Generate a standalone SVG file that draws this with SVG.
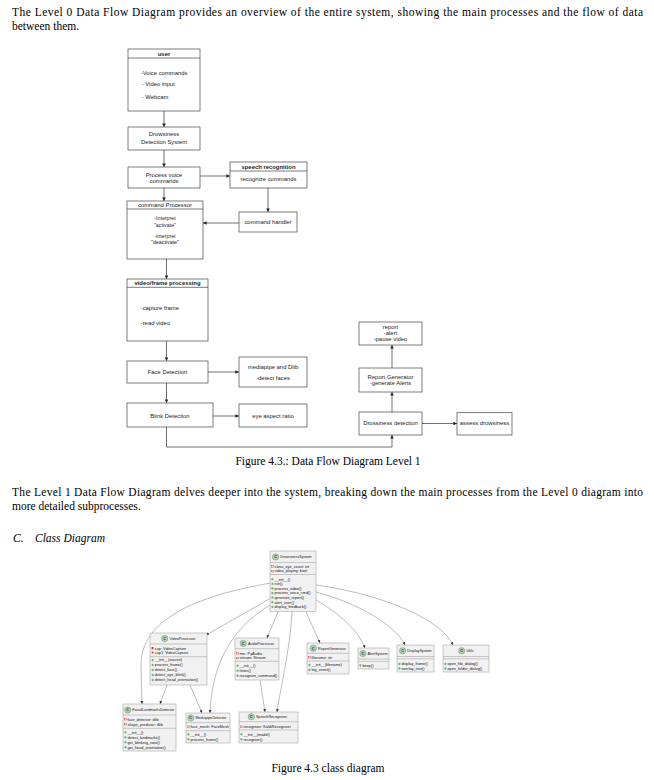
<svg xmlns="http://www.w3.org/2000/svg" width="654" height="780" viewBox="0 0 654 780">
<defs>
<style>
.bt{font-family:"Liberation Serif","Times New Roman",serif;font-size:11.5px;fill:#000}
.bx{fill:#fff;stroke:#444;stroke-width:0.7}
.dl{stroke:#444;stroke-width:0.7}
.t{font-family:"Liberation Sans",Arial,sans-serif;font-size:5.9px;fill:#222}
.tm{text-anchor:middle}
.b{font-weight:bold}
.ar{fill:none;stroke:#333;stroke-width:0.7;marker-end:url(#ah)}
.cb{fill:#f1f1f1;stroke:#999;stroke-width:0.5}
.cd{stroke:#999;stroke-width:0.5}
.ci{fill:#add1b2;stroke:#5b7a60;stroke-width:0.35}
.cc{font-family:"Liberation Sans",Arial,sans-serif;font-size:4px;font-weight:bold;fill:#1e3a22;text-anchor:middle}
.cn{font-family:"Liberation Sans",Arial,sans-serif;font-size:3.7px;fill:#111}
.ct{font-family:"Liberation Sans",Arial,sans-serif;font-size:3.8px;fill:#111}
.pv{fill:none;stroke:#c82930;stroke-width:0.4}
.pb{fill:#84be84;stroke:#038048;stroke-width:0.3}
.cl{fill:none;stroke:#6a6a6a;stroke-width:0.45;marker-end:url(#ah2)}
</style>
<marker id="ah" viewBox="0 0 6 6" refX="6" refY="3" markerWidth="3.6" markerHeight="3.6" markerUnits="userSpaceOnUse" orient="auto"><path d="M0,0L6,3L0,6z" fill="#222"/></marker>
<marker id="ah2" viewBox="0 0 6 6" refX="6" refY="3" markerWidth="3" markerHeight="3" markerUnits="userSpaceOnUse" orient="auto"><path d="M0,0L6,3L0,6z" fill="#333"/></marker>
</defs>
<rect width="654" height="780" fill="#fff"/>

<g id="body-text">
<text class="bt" x="12" y="16" textLength="631" lengthAdjust="spacing">The Level 0 Data Flow Diagram provides an overview of the entire system, showing the main processes and the flow of data</text>
<text class="bt" x="12" y="30">between them.</text>
<text class="bt" x="328" y="465" text-anchor="middle">Figure 4.3.: Data Flow Diagram Level 1</text>
<text class="bt" x="12" y="496" textLength="631" lengthAdjust="spacing">The Level 1 Data Flow Diagram delves deeper into the system, breaking down the main processes from the Level 0 diagram into</text>
<text class="bt" x="12" y="510">more detailed subprocesses.</text>
<text class="bt" x="13" y="542" font-style="italic">C.</text>
<text class="bt" x="35" y="542" font-style="italic">Class Diagram</text>
<text class="bt" x="328" y="772" text-anchor="middle">Figure 4.3 class diagram</text>
</g>

<g id="dfd-connectors">
<path class="ar" d="M164,111V127"/>
<path class="ar" d="M164,150V167"/>
<path class="ar" d="M200,176H230"/>
<path class="ar" d="M268,188V212"/>
<path class="ar" d="M164,188V201"/>
<path class="ar" d="M239,223H203"/>
<path class="ar" d="M166.5,259V279"/>
<path class="ar" d="M166.5,341V361"/>
<path class="ar" d="M208,372H239"/>
<path class="ar" d="M166.5,383V403"/>
<path class="ar" d="M213,416H239"/>
<path class="ar" d="M166.5,427V447H392V435"/>
<path class="ar" d="M392,412V392"/>
<path class="ar" d="M392,368V345"/>
<path class="ar" d="M422,423.5H457"/>
</g>

<g id="user">
<rect class="bx" x="128" y="49" width="72" height="62"/>
<line class="dl" x1="128" y1="58" x2="200" y2="58"/>
<text class="t tm b" x="164" y="55.6">user</text>
<text class="t" x="140.7" y="75.4">-Voice commands</text>
<text class="t" x="141.7" y="86.4">- Video input</text>
<text class="t" x="141.7" y="98.8">- Webcam</text>
</g>
<g id="drowsiness-system">
<rect class="bx" x="128" y="127" width="72" height="23"/>
<text class="t tm" x="164" y="136.4">Drowsiness</text>
<text class="t tm" x="164" y="143.8">Detection System</text>
</g>
<g id="process-voice">
<rect class="bx" x="128" y="167" width="72" height="21"/>
<text class="t tm" x="164" y="176.5">Process voice</text>
<text class="t tm" x="164" y="182.5">commands</text>
</g>
<g id="speech-recognition">
<rect class="bx" x="230" y="162" width="77" height="26"/>
<line class="dl" x1="230" y1="171" x2="307" y2="171"/>
<text class="t tm b" x="268.5" y="168.6">speech recognition</text>
<text class="t tm" x="268.5" y="181.4">recognize commands</text>
</g>
<g id="command-handler">
<rect class="bx" x="239" y="212" width="58" height="20"/>
<text class="t tm" x="268" y="224">command handler</text>
</g>
<g id="command-processor">
<rect class="bx" x="127" y="201" width="76" height="58"/>
<line class="dl" x1="127" y1="209" x2="203" y2="209"/>
<text class="t tm" x="165" y="207.2">command Processor</text>
<text class="t tm" x="165" y="219.8" style="font-size:5.3px">-Interpret</text>
<text class="t tm" x="165" y="227.2" style="font-size:5.3px">"activate"</text>
<text class="t tm" x="165" y="237.8" style="font-size:5.3px">-interpret</text>
<text class="t tm" x="165" y="244" style="font-size:5.3px">"deactivate"</text>
</g>
<g id="video-frame-processing">
<rect class="bx" x="127" y="279" width="81" height="62"/>
<line class="dl" x1="127" y1="287.3" x2="208" y2="287.3"/>
<text class="t tm b" x="167.5" y="285.4">video/frame processing</text>
<text class="t" x="140.7" y="310.4">-capture frame</text>
<text class="t" x="140.7" y="325.4">-read video</text>
</g>
<g id="face-detection">
<rect class="bx" x="127" y="361" width="81" height="22"/>
<text class="t tm" x="167.5" y="374.4">Face Detection</text>
</g>
<g id="mediapipe-dlib">
<rect class="bx" x="239" y="357" width="68" height="30"/>
<text class="t tm" x="273" y="368.8">mediapipe and Dlib</text>
<text class="t tm" x="273" y="380.4">-detect faces</text>
</g>
<g id="blink-detection">
<rect class="bx" x="127" y="403" width="86" height="24"/>
<text class="t tm" x="170" y="417.8">Blink Detection</text>
</g>
<g id="eye-aspect-ratio">
<rect class="bx" x="239" y="404" width="68" height="23"/>
<text class="t tm" x="273" y="417.8">eye aspect ratio</text>
</g>
<g id="report">
<rect class="bx" x="359" y="322" width="63" height="23"/>
<text class="t tm" x="390.5" y="329.4">report</text>
<text class="t tm" x="390.5" y="335.4">-alert</text>
<text class="t tm" x="390.5" y="341.2">-pause video</text>
</g>
<g id="report-generator">
<rect class="bx" x="359" y="368" width="63" height="24"/>
<text class="t tm" x="390.5" y="379.4">Report Generator</text>
<text class="t tm" x="390.5" y="385.4">-generate Alerts</text>
</g>
<g id="drossiness-detection">
<rect class="bx" x="359" y="412" width="63" height="23"/>
<text class="t tm" x="390.5" y="425.4">Drossiness detection</text>
</g>
<g id="assess-drowsiness">
<rect class="bx" x="457" y="412.7" width="55" height="22.3"/>
<text class="t tm" x="484.5" y="425.4">assess drowsiness</text>
</g>

<g id="class-connectors">
<path class="cl" d="M271,583C195,596 141,620 141,665L142,704"/>
<path class="cl" d="M167,685L160,704"/>
<path class="cl" d="M271,598L206,635"/>
<path class="cl" d="M272,604C235,625 212,660 210,713"/>
<path class="cl" d="M190,685L202,713"/>
<path class="cl" d="M278,612L267,638"/>
<path class="cl" d="M260,680L265,712"/>
<path class="cl" d="M292,612C290,650 280,690 277,712"/>
<path class="cl" d="M306,612L320,643"/>
<path class="cl" d="M316,600C340,614 358,630 365,648"/>
<path class="cl" d="M316,592C360,604 395,625 405,645"/>
<path class="cl" d="M316,585C380,594 440,618 453,645"/>
</g>

<g id="DrowsinessSystem">
<rect class="cb" x="270" y="551" width="46" height="60.5"/>
<line class="cd" x1="270" y1="562.5" x2="316" y2="562.5"/>
<line class="cd" x1="270" y1="574.5" x2="316" y2="574.5"/>
<circle class="ci" cx="275.6" cy="557" r="3.2"/>
<text class="cc" x="275.6" y="558.4">C</text>
<text class="cn" x="280.3" y="558.3">DrowsinessSystem</text>
<rect class="pv" x="271.6" y="565.8" width="1.6" height="1.6"/><text class="ct" x="274.5" y="567.6">close_eye_count: int</text>
<rect class="pv" x="271.6" y="570.4" width="1.6" height="1.6"/><text class="ct" x="274.5" y="572.2">video_playing: bool</text>
<circle class="pb" cx="272.4" cy="579.2" r="0.9"/><text class="ct" x="274.5" y="580.5">__init__()</text>
<circle class="pb" cx="272.4" cy="583.8" r="0.9"/><text class="ct" x="274.5" y="585.1">run()</text>
<circle class="pb" cx="272.4" cy="588.4" r="0.9"/><text class="ct" x="274.5" y="589.7">process_video()</text>
<circle class="pb" cx="272.4" cy="593" r="0.9"/><text class="ct" x="274.5" y="594.3">process_voice_cmd()</text>
<circle class="pb" cx="272.4" cy="597.6" r="0.9"/><text class="ct" x="274.5" y="598.9">generate_report()</text>
<circle class="pb" cx="272.4" cy="602.2" r="0.9"/><text class="ct" x="274.5" y="603.5">alert_user()</text>
<circle class="pb" cx="272.4" cy="606.8" r="0.9"/><text class="ct" x="274.5" y="608.1">display_feedback()</text>
</g>

<g id="VideoProcessor">
<rect class="cb" x="150" y="633" width="57" height="52"/>
<line class="cd" x1="150" y1="644" x2="207" y2="644"/>
<line class="cd" x1="150" y1="656.7" x2="207" y2="656.7"/>
<circle class="ci" cx="164.7" cy="638.5" r="3.2"/>
<text class="cc" x="164.7" y="639.9">C</text>
<text class="cn" x="169.4" y="639.8">VideoProcessor</text>
<rect class="pv" x="151.8" y="647.5" width="1.6" height="1.6"/><text class="ct" x="154.8" y="649.7">cap: VideoCapture</text>
<rect class="pv" x="151.8" y="651.9" width="1.6" height="1.6"/><text class="ct" x="154.8" y="654.1">cap1: VideoCapture</text>
<circle class="pb" cx="152.6" cy="660" r="0.9"/><text class="ct" x="154.8" y="661.4">__init__(source)</text>
<circle class="pb" cx="152.6" cy="665" r="0.9"/><text class="ct" x="154.8" y="666.4">process_frame()</text>
<circle class="pb" cx="152.6" cy="670" r="0.9"/><text class="ct" x="154.8" y="671.4">detect_face()</text>
<circle class="pb" cx="152.6" cy="675" r="0.9"/><text class="ct" x="154.8" y="676.4">detect_eye_blink()</text>
<circle class="pb" cx="152.6" cy="680" r="0.9"/><text class="ct" x="154.8" y="681.4">detect_head_orientation()</text>
</g>

<g id="AudioProcessor">
<rect class="cb" x="235" y="638" width="44" height="42"/>
<line class="cd" x1="235" y1="648.7" x2="279" y2="648.7"/>
<line class="cd" x1="235" y1="661.3" x2="279" y2="661.3"/>
<circle class="ci" cx="243.2" cy="643.4" r="3.2"/>
<text class="cc" x="243.2" y="644.8">C</text>
<text class="cn" x="247.9" y="644.7">AudioProcessor</text>
<rect class="pv" x="236.7" y="652.5" width="1.6" height="1.6"/><text class="ct" x="239.6" y="654.6">mic: PyAudio</text>
<rect class="pv" x="236.7" y="657.3" width="1.6" height="1.6"/><text class="ct" x="239.6" y="659.4">stream: Stream</text>
<circle class="pb" cx="237.5" cy="665.7" r="0.9"/><text class="ct" x="239.6" y="667.1">__init__()</text>
<circle class="pb" cx="237.5" cy="670.7" r="0.9"/><text class="ct" x="239.6" y="672.1">listen()</text>
<circle class="pb" cx="237.5" cy="675.7" r="0.9"/><text class="ct" x="239.6" y="677.1">recognize_command()</text>
</g>

<g id="ReportGenerator">
<rect class="cb" x="307" y="643" width="42" height="31"/>
<line class="cd" x1="307" y1="653.3" x2="349" y2="653.3"/>
<line class="cd" x1="307" y1="661" x2="349" y2="661"/>
<circle class="ci" cx="313.3" cy="648.3" r="3.2"/>
<text class="cc" x="313.3" y="649.7">C</text>
<text class="cn" x="318" y="649.6">ReportGenerator</text>
<rect class="pv" x="308.6" y="656.5" width="1.6" height="1.6"/><text class="ct" x="311.5" y="658.7">filename: str</text>
<circle class="pb" cx="309.4" cy="665" r="0.9"/><text class="ct" x="311.5" y="666.4">__init__(filename)</text>
<circle class="pb" cx="309.4" cy="670" r="0.9"/><text class="ct" x="311.5" y="671.4">log_event()</text>
</g>

<g id="AlertSystem">
<rect class="cb" x="358" y="648" width="31" height="21"/>
<line class="cd" x1="358" y1="659" x2="389" y2="659"/>
<line class="cd" x1="358" y1="661.3" x2="389" y2="661.3"/>
<circle class="ci" cx="362.9" cy="653.5" r="3.2"/>
<text class="cc" x="362.9" y="654.9">C</text>
<text class="cn" x="367.6" y="654.8">AlertSystem</text>
<circle class="pb" cx="360.4" cy="665.3" r="0.9"/><text class="ct" x="362.5" y="666.7">beep()</text>
</g>

<g id="DisplaySystem">
<rect class="cb" x="397" y="645" width="37" height="27"/>
<line class="cd" x1="397" y1="656.5" x2="434" y2="656.5"/>
<line class="cd" x1="397" y1="658.8" x2="434" y2="658.8"/>
<circle class="ci" cx="402.6" cy="650.8" r="3.2"/>
<text class="cc" x="402.6" y="652.2">C</text>
<text class="cn" x="407.3" y="652.1">DisplaySystem</text>
<circle class="pb" cx="399.4" cy="663.9" r="0.9"/><text class="ct" x="401.5" y="665.3">display_frame()</text>
<circle class="pb" cx="399.4" cy="668.5" r="0.9"/><text class="ct" x="401.5" y="669.9">overlay_text()</text>
</g>

<g id="Utils">
<rect class="cb" x="443" y="645" width="46" height="27"/>
<line class="cd" x1="443" y1="656.5" x2="489" y2="656.5"/>
<line class="cd" x1="443" y1="658.8" x2="489" y2="658.8"/>
<circle class="ci" cx="461.7" cy="650.8" r="3.2"/>
<text class="cc" x="461.7" y="652.2">C</text>
<text class="cn" x="466.4" y="652.1">Utils</text>
<circle class="pb" cx="445.4" cy="663.9" r="0.9"/><text class="ct" x="447.5" y="665.3">open_file_dialog()</text>
<circle class="pb" cx="445.4" cy="668.5" r="0.9"/><text class="ct" x="447.5" y="669.9">open_folder_dialog()</text>
</g>

<g id="FacialLandmarksDetector">
<rect class="cb" x="123" y="704" width="53" height="47"/>
<line class="cd" x1="123" y1="715" x2="176" y2="715"/>
<line class="cd" x1="123" y1="728.3" x2="176" y2="728.3"/>
<circle class="ci" cx="127.7" cy="710" r="3.2"/>
<text class="cc" x="127.7" y="711.4">C</text>
<text class="cn" x="132.2" y="711.3">FacialLandmarksDetector</text>
<rect class="pv" x="124.6" y="718.4" width="1.6" height="1.6"/><text class="ct" x="127.5" y="720.6">face_detector: dlib</text>
<rect class="pv" x="124.6" y="723.4" width="1.6" height="1.6"/><text class="ct" x="127.5" y="725.6">shape_predictor: dlib</text>
<circle class="pb" cx="125.4" cy="732.3" r="0.9"/><text class="ct" x="127.5" y="733.7">__init__()</text>
<circle class="pb" cx="125.4" cy="737.3" r="0.9"/><text class="ct" x="127.5" y="738.7">detect_landmarks()</text>
<circle class="pb" cx="125.4" cy="742.3" r="0.9"/><text class="ct" x="127.5" y="743.7">get_blinking_ratio()</text>
<circle class="pb" cx="125.4" cy="747.3" r="0.9"/><text class="ct" x="127.5" y="748.7">get_head_orientation()</text>
</g>

<g id="MediapipeDetector">
<rect class="cb" x="186" y="713" width="44" height="30"/>
<line class="cd" x1="186" y1="722.7" x2="230" y2="722.7"/>
<line class="cd" x1="186" y1="730.7" x2="230" y2="730.7"/>
<circle class="ci" cx="190.8" cy="718" r="3.2"/>
<text class="cc" x="190.8" y="719.4">C</text>
<text class="cn" x="195.4" y="719.3">MediapipeDetector</text>
<rect class="pv" x="187.6" y="725.9" width="1.6" height="1.6"/><text class="ct" x="190.5" y="728.1">face_mesh: FaceMesh</text>
<circle class="pb" cx="188.4" cy="734.3" r="0.9"/><text class="ct" x="190.5" y="735.7">__init__()</text>
<circle class="pb" cx="188.4" cy="739.3" r="0.9"/><text class="ct" x="190.5" y="740.7">process_frame()</text>
</g>

<g id="SpeechRecognizer">
<rect class="cb" x="239" y="712" width="59" height="31"/>
<line class="cd" x1="239" y1="721.7" x2="298" y2="721.7"/>
<line class="cd" x1="239" y1="730" x2="298" y2="730"/>
<circle class="ci" cx="251.3" cy="716.8" r="3.2"/>
<text class="cc" x="251.3" y="718.2">C</text>
<text class="cn" x="255.9" y="718.1">SpeechRecognizer</text>
<rect class="pv" x="240.6" y="725.9" width="1.6" height="1.6"/><text class="ct" x="243.5" y="728.1">recognizer: KaldiRecognizer</text>
<circle class="pb" cx="241.4" cy="734.3" r="0.9"/><text class="ct" x="243.5" y="735.7">__init__(model)</text>
<circle class="pb" cx="241.4" cy="739.3" r="0.9"/><text class="ct" x="243.5" y="740.7">recognize()</text>
</g>
</svg>
